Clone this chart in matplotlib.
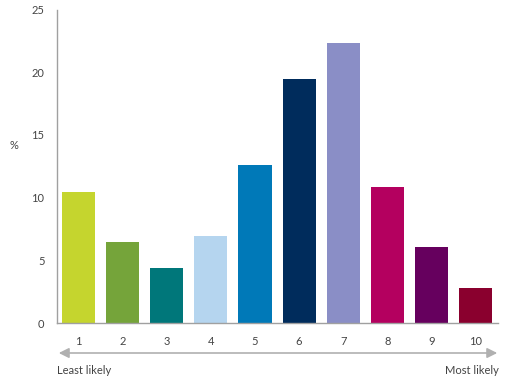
import matplotlib.pyplot as plt
import numpy as np

categories = ['1', '2', '3', '4', '5', '6', '7', '8', '9', '10']
values = [10.45, 6.5, 4.4, 6.95, 12.6, 19.45, 22.3, 10.85, 6.05, 2.8]
colors = ['#c5d52e', '#75a43a', '#00777a', '#b5d5ef', '#0079b8',
          '#002c5c', '#8a8ec6', '#b4005f', '#66005e', '#8a002e']

plt.rcParams['font.family'] = ['Lato', 'DejaVu Sans']

fig = plt.figure(figsize=(5.06, 3.81), dpi=100)
ax = fig.add_axes([0.1126, 0.152, 0.8715, 0.823])

x = np.arange(1, len(categories) + 1)
ax.bar(x, values, width=0.75, color=colors)

ax.set_xlim(0.51, 10.51)
ax.set_ylim(0, 25)
ax.set_yticks([0, 5, 10, 15, 20, 25])
ax.set_xticks(x)
ax.set_xticklabels(categories)
ax.tick_params(length=0, labelsize=8, colors='#444444')
ax.tick_params(axis='x', pad=9)
ax.tick_params(axis='y', pad=9)

for s in ['top', 'right']:
    ax.spines[s].set_visible(False)
for s in ['left', 'bottom']:
    ax.spines[s].set_color('#a0a0a0')
    ax.spines[s].set_linewidth(1.0)

fig.text(9 / 506, 1 - 145 / 381, '%', fontsize=8, color='#444444',
         ha='left', va='center')

# scale arrow under the axis
ax.annotate('', xy=(500 / 506, 1 - 353 / 381), xytext=(56 / 506, 1 - 353 / 381),
            xycoords='figure fraction', textcoords='figure fraction',
            arrowprops=dict(arrowstyle='<|-|>,head_length=0.6,head_width=0.3',
                            color='#b0b0b0', lw=1.2))
fig.text(57 / 506, 1 - 370 / 381, 'Least likely', fontsize=8, color='#444444',
         ha='left', va='center')
fig.text(499 / 506, 1 - 370 / 381, 'Most likely', fontsize=8, color='#444444',
         ha='right', va='center')

plt.savefig('out.png', dpi=100)
